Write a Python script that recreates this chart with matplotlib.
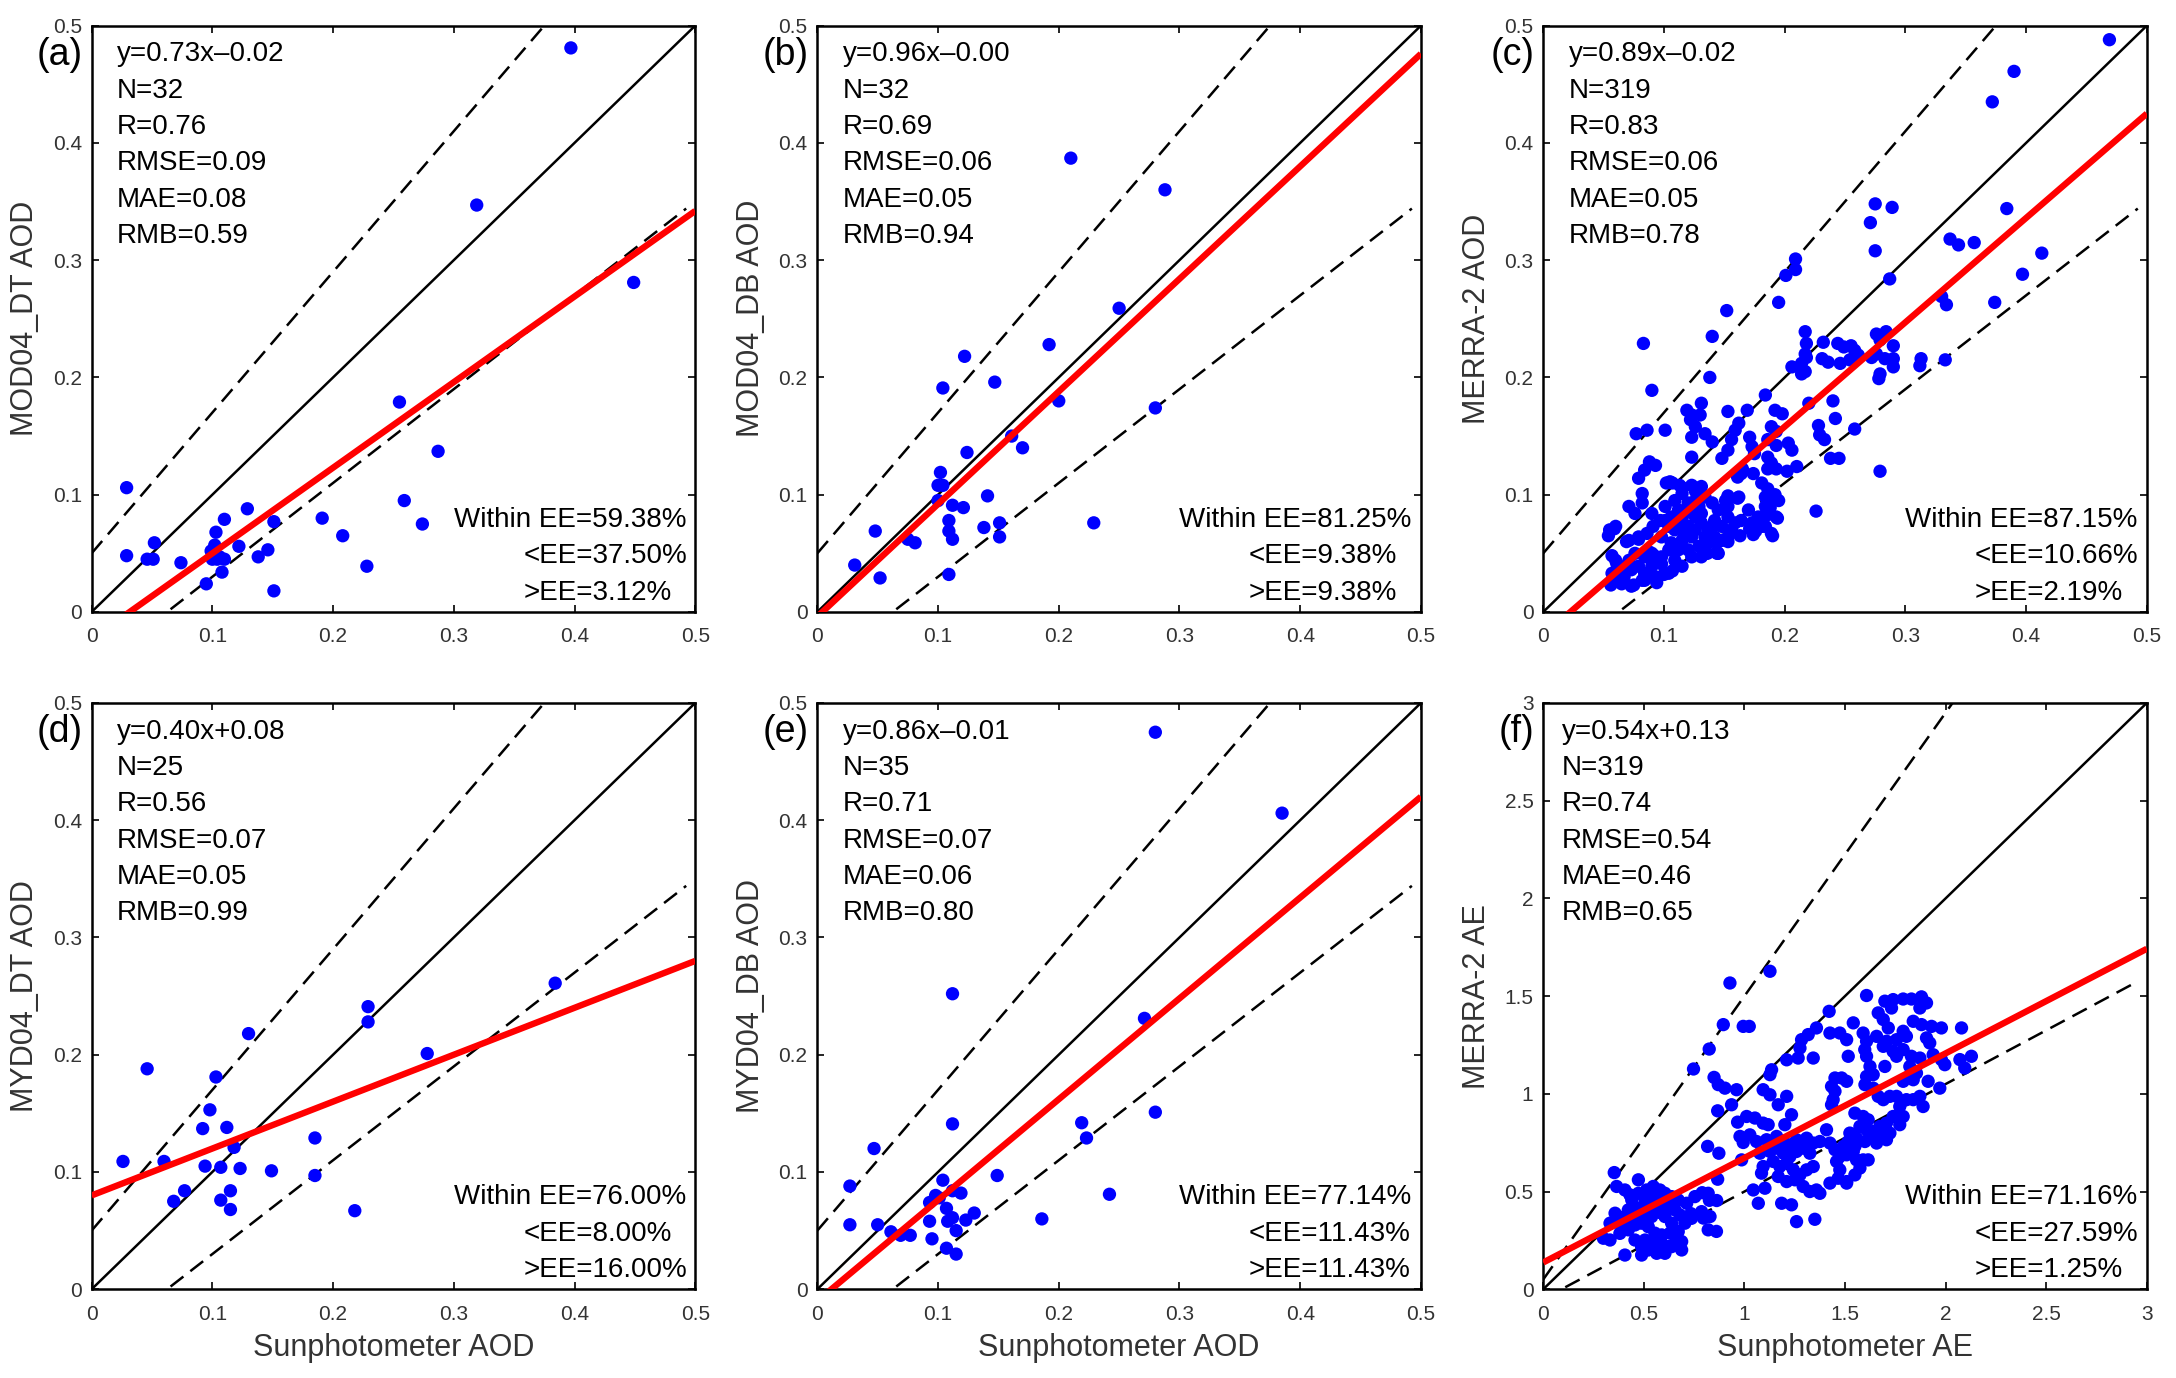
import matplotlib
matplotlib.use('Agg')
import matplotlib.pyplot as plt
from matplotlib.ticker import FuncFormatter
import numpy as np

plt.rcParams['font.family'] = ['Liberation Sans', 'DejaVu Sans']

# ---- scatter data (x = sunphotometer, y = satellite/reanalysis) ----
pts_a = np.array([
    (0.397, 0.481), (0.319, 0.347), (0.449, 0.281), (0.255, 0.179), (0.287, 0.137),
    (0.259, 0.095), (0.274, 0.075), (0.191, 0.080), (0.208, 0.065), (0.228, 0.039),
    (0.029, 0.106), (0.029, 0.048), (0.052, 0.059), (0.046, 0.045), (0.051, 0.045),
    (0.074, 0.042), (0.129, 0.088), (0.110, 0.079), (0.103, 0.068), (0.102, 0.057),
    (0.100, 0.045), (0.110, 0.045), (0.108, 0.034), (0.095, 0.024), (0.122, 0.056),
    (0.138, 0.047), (0.146, 0.053), (0.151, 0.077), (0.151, 0.018), (0.099, 0.052),
    (0.104, 0.045), (0.106, 0.047)])

pts_b = np.array([
    (0.210, 0.387), (0.288, 0.360), (0.250, 0.259), (0.192, 0.228), (0.122, 0.218),
    (0.147, 0.196), (0.104, 0.191), (0.200, 0.180), (0.280, 0.174), (0.161, 0.150),
    (0.170, 0.140), (0.124, 0.136), (0.102, 0.119), (0.100, 0.108), (0.104, 0.108),
    (0.100, 0.095), (0.112, 0.091), (0.121, 0.089), (0.141, 0.099), (0.109, 0.078),
    (0.109, 0.069), (0.112, 0.062), (0.138, 0.072), (0.151, 0.076), (0.151, 0.064),
    (0.229, 0.076), (0.109, 0.032), (0.048, 0.069), (0.075, 0.062), (0.081, 0.059),
    (0.031, 0.040), (0.052, 0.029)])

pts_c = np.array([
    (0.469, 0.488), (0.390, 0.461), (0.372, 0.435), (0.275, 0.348), (0.289, 0.345),
    (0.271, 0.332), (0.275, 0.308), (0.384, 0.344), (0.337, 0.318), (0.344, 0.313),
    (0.357, 0.315), (0.413, 0.306), (0.397, 0.288), (0.287, 0.284), (0.330, 0.269),
    (0.334, 0.262), (0.374, 0.264), (0.209, 0.301), (0.201, 0.287), (0.209, 0.292),
    (0.195, 0.264), (0.152, 0.257), (0.140, 0.235), (0.083, 0.229),
    (0.217, 0.239), (0.218, 0.229), (0.217, 0.220), (0.218, 0.217), (0.217, 0.205),
    (0.232, 0.230), (0.231, 0.216), (0.236, 0.213), (0.244, 0.229), (0.249, 0.226),
    (0.255, 0.227), (0.258, 0.223), (0.261, 0.219), (0.254, 0.215), (0.246, 0.212),
    (0.276, 0.237), (0.284, 0.239), (0.279, 0.232), (0.290, 0.227), (0.272, 0.217),
    (0.276, 0.220), (0.283, 0.216), (0.290, 0.216), (0.290, 0.209), (0.279, 0.203),
    (0.278, 0.199), (0.313, 0.216), (0.312, 0.210), (0.333, 0.215),
    (0.220, 0.178), (0.240, 0.180), (0.242, 0.165), (0.228, 0.159), (0.229, 0.151),
    (0.233, 0.147), (0.258, 0.156), (0.238, 0.131), (0.245, 0.131), (0.279, 0.120),
    (0.226, 0.086),
    (0.138, 0.200), (0.090, 0.189), (0.206, 0.209), (0.214, 0.212), (0.214, 0.203),
    (0.184, 0.185), (0.153, 0.171), (0.169, 0.172), (0.192, 0.172), (0.198, 0.169),
    (0.131, 0.178), (0.119, 0.172), (0.123, 0.168), (0.122, 0.164), (0.130, 0.168),
    (0.077, 0.152), (0.086, 0.155), (0.101, 0.155), (0.126, 0.158), (0.134, 0.152),
    (0.140, 0.145), (0.123, 0.149), (0.162, 0.161), (0.159, 0.155), (0.156, 0.147),
    (0.153, 0.138), (0.171, 0.149), (0.173, 0.141), (0.175, 0.135), (0.189, 0.158),
    (0.193, 0.154), (0.186, 0.147), (0.193, 0.142), (0.203, 0.144), (0.206, 0.138),
    (0.148, 0.131), (0.123, 0.132), (0.088, 0.128), (0.093, 0.125), (0.084, 0.121),
    (0.079, 0.114), (0.186, 0.132), (0.189, 0.127), (0.193, 0.122), (0.186, 0.122),
    (0.202, 0.120), (0.210, 0.124), (0.164, 0.118), (0.174, 0.118), (0.105, 0.111),
    (0.113, 0.108), (0.123, 0.108), (0.126, 0.103), (0.131, 0.107), (0.082, 0.101),
    (0.071, 0.090), (0.076, 0.084), (0.082, 0.093), (0.162, 0.098), (0.181, 0.110),
    (0.186, 0.105), (0.192, 0.100), (0.195, 0.095), (0.170, 0.087), (0.184, 0.090),
    (0.186, 0.083), (0.193, 0.081), (0.055, 0.070), (0.060, 0.073), (0.071, 0.061),
    (0.079, 0.064), (0.086, 0.067), (0.091, 0.073), (0.090, 0.084), (0.097, 0.078),
    (0.101, 0.090), (0.109, 0.095), (0.115, 0.101), (0.120, 0.093), (0.126, 0.095),
    (0.134, 0.098), (0.140, 0.093), (0.145, 0.087), (0.151, 0.095), (0.153, 0.081),
    (0.148, 0.073), (0.142, 0.078), (0.137, 0.070), (0.131, 0.076), (0.126, 0.081),
    (0.120, 0.073), (0.115, 0.078), (0.109, 0.070), (0.104, 0.073), (0.098, 0.064),
    (0.106, 0.059), (0.115, 0.061), (0.123, 0.064), (0.129, 0.056), (0.137, 0.059),
    (0.145, 0.050), (0.120, 0.053), (0.112, 0.053), (0.104, 0.053), (0.098, 0.047),
    (0.109, 0.044), (0.115, 0.039), (0.112, 0.087), (0.117, 0.084), (0.123, 0.087),
    (0.129, 0.090), (0.131, 0.084), (0.117, 0.067), (0.126, 0.070), (0.112, 0.073),
    (0.106, 0.081), (0.101, 0.078), (0.140, 0.073), (0.134, 0.064), (0.142, 0.064),
    (0.159, 0.076), (0.164, 0.078), (0.173, 0.076), (0.178, 0.081), (0.181, 0.073),
    (0.189, 0.067), (0.153, 0.064), (0.156, 0.070), (0.148, 0.061), (0.184, 0.098),
    (0.153, 0.090), (0.060, 0.044), (0.068, 0.039), (0.073, 0.036), (0.079, 0.039),
    (0.084, 0.033), (0.090, 0.039), (0.098, 0.041), (0.093, 0.030), (0.082, 0.027),
    (0.073, 0.022), (0.065, 0.024), (0.060, 0.027), (0.104, 0.033), (0.123, 0.047),
    (0.131, 0.047), (0.144, 0.050), (0.090, 0.050), (0.057, 0.033), (0.084, 0.047),
    (0.076, 0.050), (0.071, 0.044), (0.054, 0.065), (0.059, 0.071), (0.057, 0.048),
    (0.061, 0.041), (0.056, 0.023), (0.067, 0.030), (0.075, 0.023), (0.084, 0.027),
    (0.094, 0.025), (0.100, 0.032), (0.107, 0.035), (0.069, 0.060), (0.079, 0.062),
    (0.088, 0.051), (0.092, 0.048), (0.102, 0.110), (0.107, 0.110), (0.115, 0.106),
    (0.153, 0.099), (0.161, 0.097), (0.136, 0.050), (0.144, 0.051), (0.153, 0.060),
    (0.163, 0.065), (0.171, 0.071), (0.176, 0.076), (0.184, 0.083), (0.190, 0.065),
    (0.194, 0.080), (0.188, 0.089), (0.192, 0.097), (0.184, 0.073), (0.176, 0.069),
    (0.174, 0.066), (0.144, 0.060), (0.161, 0.115), (0.165, 0.122)])

pts_d = np.array([
    (0.384, 0.261), (0.278, 0.201), (0.229, 0.241), (0.229, 0.228), (0.130, 0.218),
    (0.046, 0.188), (0.103, 0.181), (0.098, 0.153), (0.092, 0.137), (0.112, 0.138),
    (0.118, 0.121), (0.185, 0.129), (0.026, 0.109), (0.060, 0.109), (0.094, 0.105),
    (0.107, 0.104), (0.123, 0.103), (0.149, 0.101), (0.185, 0.097), (0.077, 0.084),
    (0.068, 0.075), (0.107, 0.076), (0.115, 0.084), (0.115, 0.068), (0.218, 0.067)])

pts_e = np.array([
    (0.280, 0.475), (0.385, 0.406), (0.112, 0.252), (0.271, 0.231), (0.280, 0.151),
    (0.219, 0.142), (0.223, 0.129), (0.112, 0.141), (0.047, 0.120), (0.027, 0.088),
    (0.149, 0.097), (0.242, 0.081), (0.186, 0.060), (0.027, 0.055), (0.050, 0.055),
    (0.061, 0.049), (0.069, 0.046), (0.077, 0.046), (0.104, 0.093), (0.098, 0.078),
    (0.093, 0.074), (0.112, 0.084), (0.119, 0.082), (0.107, 0.069), (0.093, 0.058),
    (0.108, 0.058), (0.112, 0.061), (0.115, 0.050), (0.123, 0.059), (0.130, 0.065),
    (0.095, 0.043), (0.107, 0.035), (0.115, 0.030), (0.098, 0.080), (0.101, 0.078)])

pts_f = np.array([
    (0.928, 1.567), (0.895, 1.354), (0.994, 1.345), (0.825, 1.229), (0.747, 1.127),
    (0.849, 1.084), (0.870, 1.047), (0.903, 1.029), (0.961, 1.021), (0.936, 0.944),
    (0.867, 0.913), (0.966, 0.855), (0.994, 0.751), (0.817, 0.731), (0.873, 0.696),
    (0.986, 0.662), (0.867, 0.563), (0.353, 0.597), (0.473, 0.560), (0.365, 0.526),
    (0.406, 0.508), (0.431, 0.483), (0.547, 0.526), (0.580, 0.508), (0.605, 0.491),
    (0.754, 0.474), (0.820, 0.491), (0.862, 0.454), (0.713, 0.440), (0.787, 0.397),
    (0.829, 0.372), (0.373, 0.372), (0.415, 0.363), (0.456, 0.372), (0.506, 0.457),
    (0.522, 0.415), (0.564, 0.423), (0.589, 0.389), (0.622, 0.423), (0.655, 0.406),
    (0.473, 0.415), (0.506, 0.397), (0.539, 0.372), (0.680, 0.380), (0.390, 0.320),
    (0.423, 0.304), (0.456, 0.329), (0.299, 0.261), (0.332, 0.252), (0.381, 0.286),
    (0.820, 0.304), (0.555, 0.287), (0.589, 0.278), (0.630, 0.287), (0.671, 0.295),
    (0.547, 0.244), (0.589, 0.235), (0.622, 0.218), (0.655, 0.235), (0.688, 0.244),
    (0.489, 0.218), (0.522, 0.201), (0.564, 0.184), (0.605, 0.184), (0.406, 0.175),
    (0.440, 0.457), (0.473, 0.491), (0.514, 0.508), (0.638, 0.474), (0.671, 0.457),
    (0.589, 0.457), (0.539, 0.474), (0.423, 0.406), (0.357, 0.389), (0.332, 0.338),
    (0.489, 0.338), (0.522, 0.320), (0.638, 0.338), (0.704, 0.338), (0.737, 0.363),
    (0.605, 0.372), (0.456, 0.252), (0.688, 0.201), (0.506, 0.252), (0.638, 0.218),
    (0.489, 0.175), (0.605, 0.218), (0.790, 0.494), (0.826, 0.455), (0.861, 0.296),
    (0.796, 0.364), (0.734, 0.387),
    (1.127, 1.627), (1.024, 1.345), (1.607, 1.503), (1.698, 1.474), (1.739, 1.482),
    (1.789, 1.485), (1.830, 1.485), (1.880, 1.496), (1.905, 1.465), (1.872, 1.439),
    (1.731, 1.439), (1.421, 1.422), (1.665, 1.414), (1.690, 1.380), (1.715, 1.337),
    (1.541, 1.363), (1.839, 1.371), (1.880, 1.354), (1.930, 1.345), (1.979, 1.337),
    (2.079, 1.337), (1.358, 1.337), (1.317, 1.303), (1.284, 1.277), (1.425, 1.311),
    (1.474, 1.311), (1.508, 1.277), (1.590, 1.311), (1.607, 1.269), (1.657, 1.294),
    (1.706, 1.269), (1.756, 1.277), (1.789, 1.320), (1.805, 1.294), (1.905, 1.286),
    (1.921, 1.260), (1.276, 1.234), (1.267, 1.183), (1.342, 1.183), (1.210, 1.174),
    (1.516, 1.192), (1.598, 1.226), (1.607, 1.192), (1.690, 1.243), (1.739, 1.217),
    (1.756, 1.192), (1.789, 1.226), (1.830, 1.192), (1.872, 1.183), (1.938, 1.200),
    (1.979, 1.175), (1.996, 1.149), (2.071, 1.175), (2.128, 1.192), (2.095, 1.132),
    (1.135, 1.123), (1.127, 1.098), (1.624, 1.140), (1.698, 1.140), (1.640, 1.098),
    (1.607, 1.089), (1.822, 1.140), (1.855, 1.106), (1.839, 1.072), (1.450, 1.081),
    (1.483, 1.081), (1.508, 1.064), (1.433, 1.038), (1.450, 1.013), (1.441, 0.970),
    (1.433, 0.944), (1.599, 1.047), (1.640, 1.029), (1.665, 0.987), (1.690, 0.970),
    (1.723, 0.987), (1.789, 1.064), (1.822, 1.089), (1.913, 1.064), (1.971, 1.029),
    (1.805, 0.970), (1.839, 0.970), (1.872, 0.987), (1.888, 0.935), (1.756, 0.987),
    (1.772, 0.935), (1.093, 1.021), (1.127, 0.995), (1.168, 0.944), (1.210, 0.987),
    (1.011, 0.884), (1.052, 0.876), (1.093, 0.850), (1.118, 0.842), (1.234, 0.893),
    (1.201, 0.842), (0.978, 0.782), (1.027, 0.790), (1.060, 0.756), (1.110, 0.765),
    (1.160, 0.782), (1.193, 0.756), (1.226, 0.739), (1.259, 0.765), (1.309, 0.773),
    (1.342, 0.748), (1.375, 0.756), (1.408, 0.816), (1.549, 0.901), (1.590, 0.884),
    (1.615, 0.867), (1.574, 0.833), (1.607, 0.816), (1.640, 0.807), (1.673, 0.833),
    (1.706, 0.850), (1.739, 0.884), (1.789, 0.884), (1.772, 0.842), (1.524, 0.799),
    (1.557, 0.773), (1.516, 0.756), (1.549, 0.731), (1.599, 0.756), (1.632, 0.782),
    (1.657, 0.748), (1.673, 0.782), (1.706, 0.765), (1.723, 0.799), (1.425, 0.748),
    (1.450, 0.714), (1.474, 0.679), (1.491, 0.731), (1.508, 0.688), (1.541, 0.705),
    (1.557, 0.662), (1.590, 0.662), (1.615, 0.662), (1.574, 0.620), (1.549, 0.585),
    (1.508, 0.551), (1.458, 0.654), (1.474, 0.611), (1.077, 0.696), (1.127, 0.705),
    (1.160, 0.722), (1.193, 0.696), (1.226, 0.679), (1.259, 0.705), (1.292, 0.722),
    (1.325, 0.696), (1.143, 0.654), (1.176, 0.628), (1.210, 0.645), (1.243, 0.611),
    (1.276, 0.585), (1.309, 0.611), (1.342, 0.628), (1.093, 0.628), (1.085, 0.594),
    (1.168, 0.577), (1.210, 0.551), (1.251, 0.560), (1.292, 0.526), (1.325, 0.500),
    (1.358, 0.508), (1.375, 0.491), (1.425, 0.543), (1.466, 0.568), (1.508, 0.543),
    (1.044, 0.508), (1.102, 0.517), (1.069, 0.440), (1.185, 0.440), (1.234, 0.432),
    (1.259, 0.346), (1.350, 0.358)])

panel_pts = [pts_a, pts_b, pts_c, pts_d, pts_e, pts_f]
panel_tags = ['(a)', '(b)', '(c)', '(d)', '(e)', '(f)']
y_labels = ['MOD04_DT AOD', 'MOD04_DB AOD', 'MERRA-2 AOD',
            'MYD04_DT AOD', 'MYD04_DB AOD', 'MERRA-2 AE']
x_labels = ['', '', '', 'Sunphotometer AOD', 'Sunphotometer AOD', 'Sunphotometer AE']
axis_max = [0.5, 0.5, 0.5, 0.5, 0.5, 3.0]
tick_step = [0.1, 0.1, 0.1, 0.1, 0.1, 0.5]

# fitted lines (slope, intercept) and expected-error envelope (a + b*x)
fit_slope = [0.73, 0.96, 0.89, 0.40, 0.86, 0.535]
fit_icept = [-0.023, -0.004, -0.020, 0.080, -0.010, 0.137]
ee_a = [0.05, 0.05, 0.05, 0.05, 0.05, 0.05]
ee_b = [0.20, 0.20, 0.20, 0.20, 0.20, 0.45]

stats = [
    ['y=0.73x\u20130.02', 'N=32', 'R=0.76', 'RMSE=0.09', 'MAE=0.08', 'RMB=0.59'],
    ['y=0.96x\u20130.00', 'N=32', 'R=0.69', 'RMSE=0.06', 'MAE=0.05', 'RMB=0.94'],
    ['y=0.89x\u20130.02', 'N=319', 'R=0.83', 'RMSE=0.06', 'MAE=0.05', 'RMB=0.78'],
    ['y=0.40x+0.08', 'N=25', 'R=0.56', 'RMSE=0.07', 'MAE=0.05', 'RMB=0.99'],
    ['y=0.86x\u20130.01', 'N=35', 'R=0.71', 'RMSE=0.07', 'MAE=0.06', 'RMB=0.80'],
    ['y=0.54x+0.13', 'N=319', 'R=0.74', 'RMSE=0.54', 'MAE=0.46', 'RMB=0.65'],
]
within_ee = ['59.38', '81.25', '87.15', '76.00', '77.14', '71.16']
below_ee = ['37.50', '9.38', '10.66', '8.00', '11.43', '27.59']
above_ee = ['3.12', '9.38', '2.19', '16.00', '11.43', '1.25']

fig = plt.figure(figsize=(21.76, 13.78), dpi=100)
lefts = [0.0421, 0.3756, 0.7092]
bottoms = [0.5559, 0.0644]
w, h = 0.2774, 0.4255

tick_col = '#333333'
fmt = FuncFormatter(lambda v, p: f'{v:g}')

for i in range(6):
    ax = fig.add_axes([lefts[i % 3], bottoms[i // 3], w, h])
    m = axis_max[i]
    pts = panel_pts[i]

    ax.scatter(pts[:, 0], pts[:, 1], s=92, c='#0000ff', edgecolors='none', zorder=2)

    xx = np.array([0, m])
    ax.plot(xx, xx, color='black', lw=1.8, zorder=1)
    xe = np.array([0, 0.985 * m])
    ax.plot(xe, xe + ee_a[i] + ee_b[i] * xe, color='black', lw=1.8,
            dashes=(6.5, 3.5), zorder=1)
    ax.plot(xe, xe - ee_a[i] - ee_b[i] * xe, color='black', lw=1.8,
            dashes=(6.5, 3.5), zorder=1)
    ax.plot(xx, fit_slope[i] * xx + fit_icept[i], color='#ff0000', lw=4.6,
            solid_capstyle='butt', zorder=3)

    ax.set_xlim(0, m)
    ax.set_ylim(0, m)
    ticks = np.arange(0, m + 1e-9, tick_step[i])
    ax.set_xticks(ticks)
    ax.set_yticks(ticks)
    ax.xaxis.set_major_formatter(fmt)
    ax.yaxis.set_major_formatter(fmt)
    ax.tick_params(direction='in', length=5, width=1.2, top=True, right=True,
                   labelsize=15, labelcolor=tick_col, pad=7)
    ax.tick_params(axis='x', pad=11)
    for sp in ax.spines.values():
        sp.set_linewidth(1.8)

    ax.set_ylabel(y_labels[i], fontsize=22, color=tick_col, labelpad=9)
    if x_labels[i]:
        ax.set_xlabel(x_labels[i], fontsize=22, color=tick_col, labelpad=7)

    ax.text(-0.015, 0.95, panel_tags[i], transform=ax.transAxes, fontsize=27,
            ha='right', va='center')

    sx = 0.031 if i == 5 else 0.042
    for k, line in enumerate(stats[i]):
        ax.text(sx, 0.951 - 0.062 * k, line, transform=ax.transAxes,
                fontsize=20, ha='left', va='center')

    ax.text(0.60, 0.157, f'Within EE={within_ee[i]}%', transform=ax.transAxes,
            fontsize=20, ha='left', va='center')
    ax.text(0.715, 0.095, f'<EE={below_ee[i]}%', transform=ax.transAxes,
            fontsize=20, ha='left', va='center')
    ax.text(0.715, 0.033, f'>EE={above_ee[i]}%', transform=ax.transAxes,
            fontsize=20, ha='left', va='center')

fig.savefig('out.png', dpi=100)
